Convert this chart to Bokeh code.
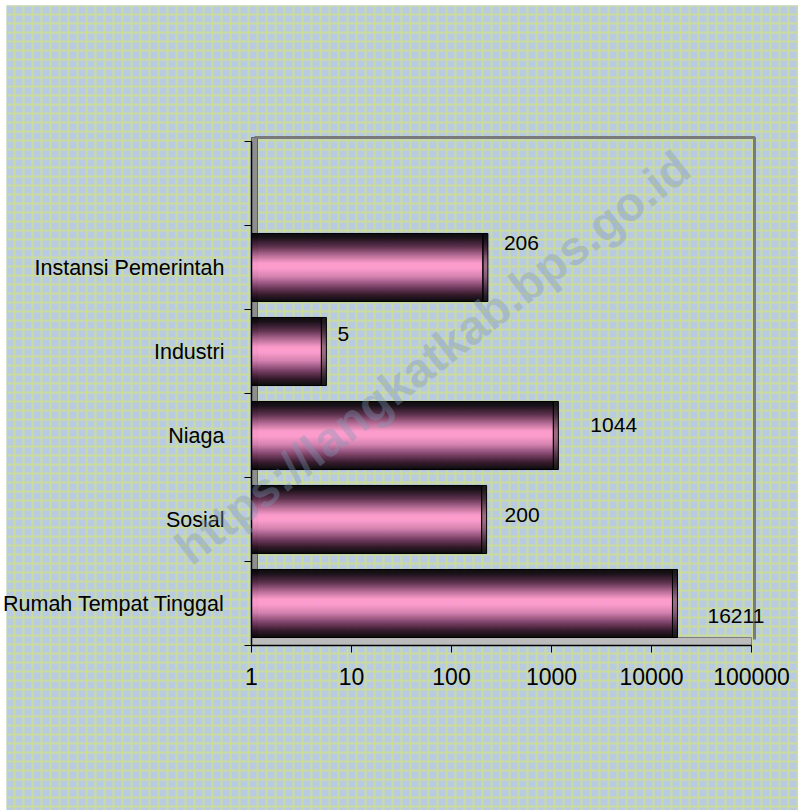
import numpy as np
from bokeh.plotting import figure
from bokeh.models import FixedTicker, Range1d, ColumnDataSource, Label, LabelSet, LinearAxis, LogAxis
from bokeh.core.properties import value
from bokeh.embed import file_html
from bokeh.resources import INLINE

# ---------------- data ----------------
categories = ["Rumah Tempat Tinggal", "Sosial", "Niaga", "Industri", "Instansi Pemerintah"]
values = [16211, 200, 1044, 5, 206]
x_ticks = [1, 10, 100, 1000, 10000, 100000]
x_tick_labels = ["1", "10", "100", "1000", "10000", "100000"]

# ---------------- style ----------------
FONT = "Liberation Sans"
W, H = 798, 810
X0_PX, Y0_PX = 251, 645        # pixel position of x=1 and y=0
PX_DEC = 100.0                 # pixels per decade
SLOT_PX = 84.0                 # pixels per category slot
BAR_FRAC = 0.81
N_STRIPS = 68
SIDE_PX = 5
WALL_TOP_PX, WALL_RIGHT_PX = 137, 754
BG_LEFT_PX, BG_TOP_PX = 6, 5

# label nudges (pixels) per category: right of bar end, and downward shift
label_dx = [35, 23, 37, 16, 21]
label_dy = [12, -5, -11, -18, -25]


def xpx(px):
    return 10 ** ((px - X0_PX) / PX_DEC)


def ypx(py):
    return (Y0_PX - py) / SLOT_PX


n_cat = len(categories)
n_slots = n_cat + 1

p = figure(width=W, height=H, x_axis_type="log",
           x_range=Range1d(xpx(0), xpx(W)), y_range=Range1d(ypx(H), ypx(0)),
           x_axis_location=None, y_axis_location=None,
           output_backend="svg", toolbar_location=None,
           min_border=0)
p.background_fill_color = "white"
p.border_fill_color = "white"
p.outline_line_color = None
p.xgrid.visible = False
p.ygrid.visible = False

# textured background (blue blobs on yellow-green)
p.quad(left=[xpx(BG_LEFT_PX)], right=[xpx(W)], bottom=[ypx(H)], top=[ypx(BG_TOP_PX)],
       fill_color="#b8cbe2", line_color=None,
       hatch_pattern="+", hatch_color="#cbdb9c", hatch_weight=2.1, hatch_scale=9)

# 3D walls and floor
wall_top = ypx(WALL_TOP_PX)
wall_right = xpx(WALL_RIGHT_PX)
p.quad(left=[1], right=[xpx(X0_PX + 6)], bottom=[0], top=[wall_top],
       fill_color="#8e8e8e", line_color="#5e5e5e", line_width=1)
p.quad(left=[1], right=[xpx(X0_PX + 500)], bottom=[0], top=[8 / SLOT_PX],
       fill_color="#bcbcbc", line_color="#7e7e7e", line_width=1)
p.line(x=[xpx(X0_PX + 3), wall_right, wall_right], y=[wall_top, wall_top, ypx(Y0_PX - 6)],
       line_color="#7a7a7a", line_width=3)

# gradient
stops = [(0.0, "#000000"), (0.07, "#120610"), (0.2, "#5a2848"), (0.33, "#b86894"),
         (0.44, "#ff99cc"), (0.52, "#ff99cc"), (0.64, "#d47cae"), (0.78, "#7a3a64"),
         (0.9, "#2e1024"), (1.0, "#000000")]


def hex2rgb(h):
    h = h.lstrip("#")
    return np.array([int(h[i:i + 2], 16) for i in (0, 2, 4)], dtype=float)


def grad(t, k=1.0):
    for (t0, c0), (t1, c1) in zip(stops[:-1], stops[1:]):
        if t0 <= t <= t1:
            f = (t - t0) / (t1 - t0) if t1 > t0 else 0
            c = (hex2rgb(c0) * (1 - f) + hex2rgb(c1) * f) * k
            return "#%02x%02x%02x" % tuple(int(round(min(255, v))) for v in c)
    return "#000000"


front = dict(y=[], left=[], right=[], color=[])
side = dict(y=[], left=[], right=[], color=[])
side_factor = 10 ** (SIDE_PX / PX_DEC)
for i, v in enumerate(values):
    for k in range(N_STRIPS):
        t = (k + 0.5) / N_STRIPS
        yy = i + 0.5 + BAR_FRAC * (0.5 - t)
        front["y"].append(yy); front["left"].append(1); front["right"].append(v)
        front["color"].append(grad(t))
        side["y"].append(yy); side["left"].append(v); side["right"].append(v * side_factor)
        side["color"].append(grad(t, 0.6))

sh = BAR_FRAC / N_STRIPS * 1.3
p.hbar(y="y", left="left", right="right", height=sh, fill_color="color",
       line_color=None, source=ColumnDataSource(front))
p.hbar(y="y", left="left", right="right", height=sh, fill_color="color",
       line_color=None, source=ColumnDataSource(side))

bars = ColumnDataSource(dict(
    y=[i + 0.5 for i in range(n_cat)], v=values,
    vs=[v * side_factor for v in values],
    one=[1] * n_cat,
    txt=[str(v) for v in values],
    dx=label_dx, dy=[-d for d in label_dy]))
p.hbar(y="y", left="one", right="v", height=BAR_FRAC, fill_color=None,
       line_color="black", line_width=1, source=bars)
p.hbar(y="y", left="v", right="vs", height=BAR_FRAC, fill_color=None,
       line_color="black", line_width=1, source=bars)

labels = LabelSet(x="v", y="y", text="txt", x_offset="dx", y_offset="dy", source=bars,
                  text_font=value(FONT), text_font_size="21px", text_color="black",
                  text_align="left", text_baseline="middle")
p.add_layout(labels)

# axes (fixed inside the full-canvas frame)
yaxis = LinearAxis(fixed_location=1, bounds=(0, n_slots),
                   ticker=FixedTicker(ticks=[i + 0.5 for i in range(n_cat)],
                                      minor_ticks=list(range(0, n_slots + 1))))
yaxis.major_label_overrides = {i + 0.5: c for i, c in enumerate(categories)}
yaxis.major_tick_out = 0
yaxis.major_tick_in = 0
yaxis.minor_tick_out = 7
yaxis.minor_tick_in = 0
yaxis.minor_tick_line_color = "black"
yaxis.axis_line_color = "black"
yaxis.axis_line_width = 1.5
yaxis.major_label_text_font = FONT
yaxis.major_label_text_font_size = "21.5px"
yaxis.major_label_text_color = "black"
yaxis.major_label_standoff = 20
p.add_layout(yaxis, "left")

xaxis = LogAxis(fixed_location=0, bounds=(x_ticks[0], x_ticks[-1]),
                ticker=FixedTicker(ticks=x_ticks, minor_ticks=[]))
xaxis.major_label_overrides = dict(zip(x_ticks, x_tick_labels))
xaxis.major_tick_out = 7
xaxis.major_tick_in = 0
xaxis.minor_tick_out = 0
xaxis.minor_tick_in = 0
xaxis.major_tick_line_color = "black"
xaxis.axis_line_color = "black"
xaxis.axis_line_width = 1.5
xaxis.major_label_text_font = FONT
xaxis.major_label_text_font_size = "23px"
xaxis.major_label_text_color = "black"
xaxis.major_label_standoff = 15
p.add_layout(xaxis, "below")

# watermark
wm = Label(x=xpx(432), y=ypx(357), text="https://langkatkab.bps.go.id",
           angle=38, angle_units="deg", text_align="center", text_baseline="middle",
           text_font=FONT, text_font_style="bold", text_font_size="48px",
           text_color="#8197b5", text_alpha=0.38)
p.add_layout(wm)

open("out.html", "w").write(file_html(p, INLINE))
